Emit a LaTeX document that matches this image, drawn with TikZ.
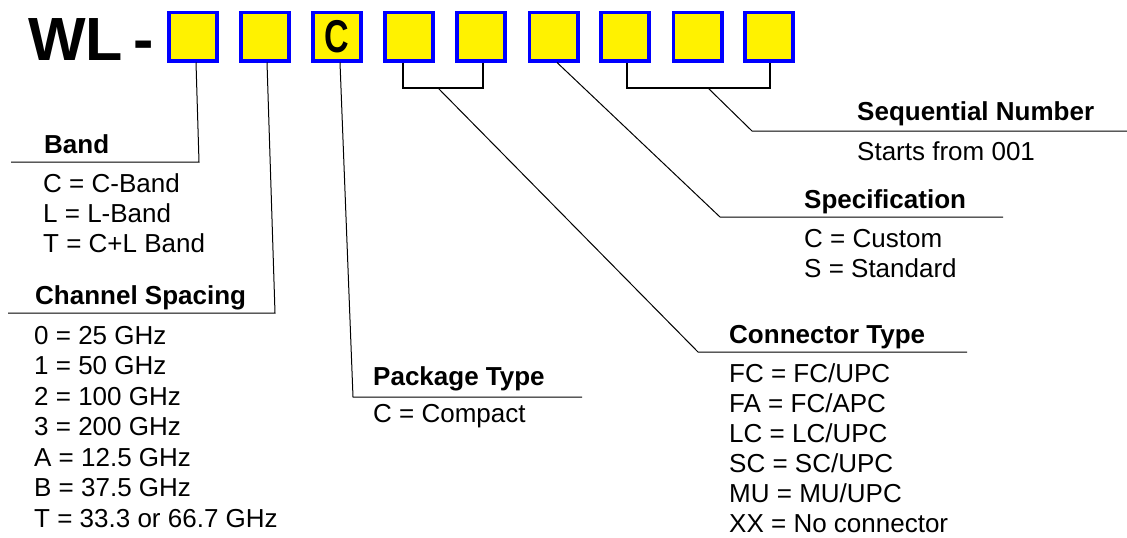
\documentclass[tikz,border=0pt]{standalone}
\usepackage{fontspec}
\setmainfont{Liberation Sans}
\usepackage{graphicx}
\begin{document}
\begin{tikzpicture}[x=1pt,y=-1pt,
  codebox/.style={draw=blue, fill=yellow, line width=3.8pt, minimum size=48.2pt, inner sep=0pt},
  head/.style={anchor=base west, inner sep=0pt, font=\fontsize{26}{30}\selectfont\bfseries},
  item/.style={anchor=base west, inner sep=0pt, font=\fontsize{26}{30}\selectfont},
  title/.style={anchor=base west, inner sep=0pt, font=\fontsize{61}{61}\selectfont\bfseries},
  lead/.style={line width=1pt},
  brk/.style={line width=1.6pt}]
\useasboundingbox (0,0) rectangle (1127,538);

% title
\node[title] (wl) at (28,60) {WL};
\node[title] (dash) at (133,60) {-};

% code boxes
\foreach \x [count=\i] in {193,265,337,409,481,553.5,625,697.5,769}
  \node[codebox] (b\i) at (\x,36.5) {};
\node[inner sep=0pt] (cc) at (b3) {\scalebox{0.74}[1]{\fontsize{46}{46}\selectfont\bfseries C}};

% Band
\node[head] (bandh) at (44,153) {Band};
\foreach \t [count=\i] in {C = C-Band, L = L-Band, T = C+L Band}
  \node[item] (band\i) at (43,162+30*\i) {\t};
\coordinate (bandk) at (199,162);
\coordinate (bande) at (11,162);
\draw[lead] ([xshift=3pt]b1.south) -- (bandk) -- (bande);

% Channel spacing
\node[head] (chh) at (35,304) {Channel Spacing};
\foreach \t [count=\i] in {0 = 25 GHz, 1 = 50 GHz, 2 = 100 GHz, 3 = 200 GHz, A = 12.5 GHz, B = 37.5 GHz, T = 33.3 or 66.7 GHz}
  \node[item] (ch\i) at (34,313.5+30.5*\i) {\t};
\coordinate (chk) at (275,313);
\coordinate (che) at (8,313);
\draw[lead] ([xshift=2pt]b2.south) -- (chk) -- (che);

% Package type
\node[head] (pkh) at (373,385) {Package Type};
\node[item] (pk1) at (373,422) {C = Compact};
\coordinate (pkk) at (353,397);
\coordinate (pke) at (582,397);
\draw[lead] ([xshift=3pt]b3.south) -- (pkk) -- (pke);

% Connector type
\node[head] (cth) at (729,343) {Connector Type};
\foreach \t [count=\i] in {FC = FC/UPC, FA = FC/APC, LC = LC/UPC, SC = SC/UPC, MU = MU/UPC, XX = No connector}
  \node[item] (ct\i) at (729,352+30*\i) {\t};
\coordinate (ctb) at (438,88);
\coordinate (ctk) at (698,352);
\coordinate (cte) at (967,352);
\draw[brk] ([xshift=-6pt]b4.south) |- (ctb) -| ([xshift=2pt]b5.south);
\draw[lead] (ctb) -- (ctk) -- (cte);

% Specification
\node[head] (sph) at (804,208) {Specification};
\node[item] (sp1) at (804,247) {C = Custom};
\node[item] (sp2) at (804,277) {S = Standard};
\coordinate (spk) at (720,217);
\coordinate (spe) at (1003,217);
\draw[lead] ([xshift=3.5pt]b6.south) -- (spk) -- (spe);

% Sequential number
\node[head] (sqh) at (857,120) {Sequential Number};
\node[item] (sq1) at (857,160) {Starts from 001};
\coordinate (sqb) at (708,88);
\coordinate (sqk) at (752,131);
\coordinate (sqe) at (1127,131);
\draw[brk] ([xshift=2pt]b7.south) |- (sqb) -| ([xshift=1pt]b9.south);
\draw[lead] (sqb) -- (sqk) -- (sqe);
\end{tikzpicture}
\end{document}
